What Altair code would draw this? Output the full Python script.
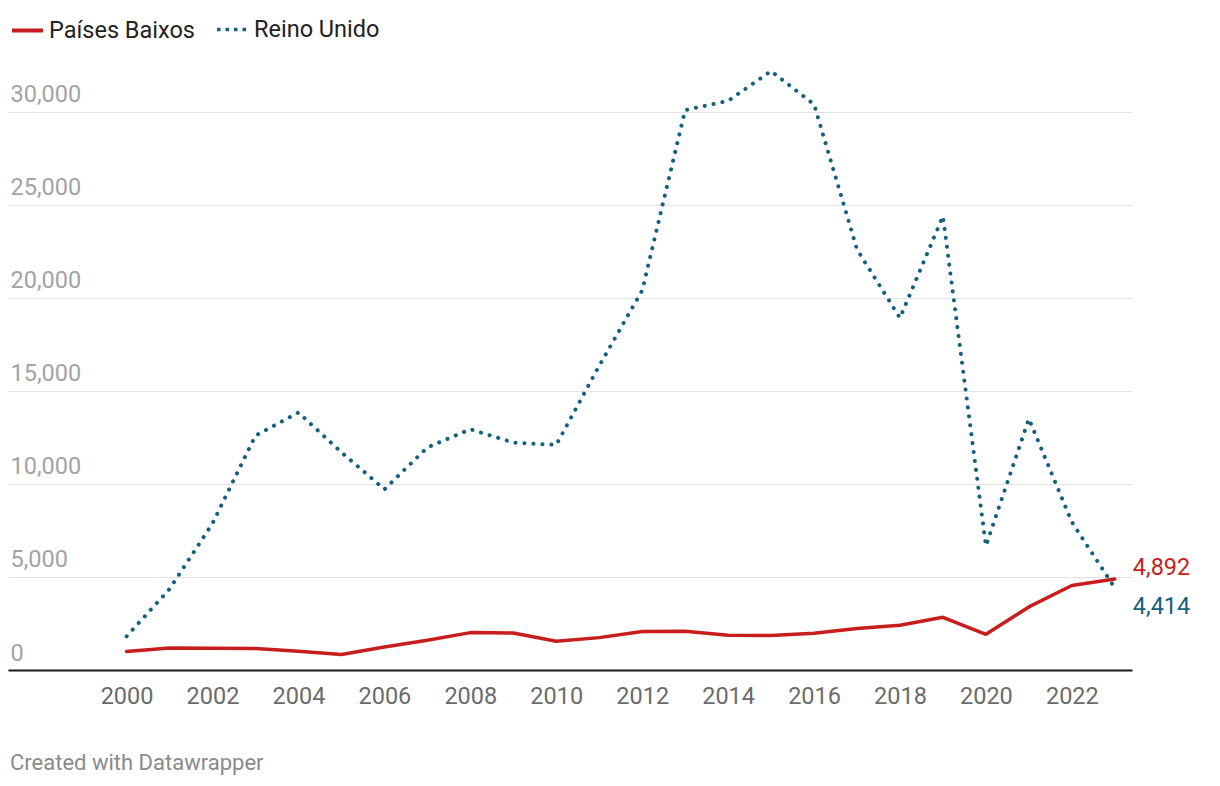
import altair as alt
import pandas as pd

# ---- data ----
years = list(range(2000, 2024))
paises_baixos = [1000, 1180, 1165, 1155, 1005, 830, 1235, 1600, 2010, 1990, 1545, 1740,
                 2065, 2080, 1865, 1850, 1975, 2225, 2400, 2830, 1920, 3390, 4540, 4892]
reino_unido = [1810, 4350, 7880, 12600, 13840, 11700, 9710, 11960, 12940, 12220, 12100, 16350,
               20400, 30090, 30590, 32190, 30400, 22600, 18920, 24390, 6670, 13500, 7950, 4414]
series_names = ["Países Baixos", "Reino Unido"]
y_ticks = [0, 5000, 10000, 15000, 20000, 25000, 30000]
x_ticks = list(range(2000, 2023, 2))
footer = "Created with Datawrapper"

RED = "#c71e1d"
BLUE = "#15607a"
FONT = "Roboto"
FS = 23.5

df_pb = pd.DataFrame({"year": years, "value": paises_baixos, "series": series_names[0]})
df_ru = pd.DataFrame({"year": years, "value": reino_unido, "series": series_names[1]})

x_enc = alt.X(
    "year:Q",
    scale=alt.Scale(domain=[1997.24, 2023.4], nice=False, zero=False),
    axis=alt.Axis(values=x_ticks, format="d", title=None, ticks=False, tickSize=0,
                  grid=False, domain=True, domainColor="#1a1a1a", domainWidth=2,
                  labelFontSize=FS, labelColor="#6b6b6b", labelPadding=14,
                  labelFont=FONT, labelFlush=False, labelOverlap=False),
)
y_enc = alt.Y(
    "value:Q",
    scale=alt.Scale(domain=[0, 33000], nice=False, zero=True),
    axis=alt.Axis(values=y_ticks, format=",.0f", title=None, ticks=False, tickSize=0,
                  domain=False, labelAlign="left", labelPadding=-2,
                  labelBaseline="alphabetic", labelOffset=-10, labelFontSize=FS,
                  labelColor="#a3a3a3", labelFont=FONT, labelFlush=False,
                  labelOverlap=False, grid=True, gridColor="#e3e3e3", gridWidth=1),
)

legend_common = dict(title=None, orient="none", symbolType="stroke", labelFontSize=FS,
                     labelFont=FONT, labelColor="#222222", padding=0,
                     direction="horizontal", labelLimit=400)

red_line = alt.Chart(df_pb).mark_line(
    strokeWidth=3.5, strokeCap="round", strokeJoin="round"
).encode(
    x=x_enc, y=y_enc,
    stroke=alt.Stroke("series:N",
                      scale=alt.Scale(domain=[series_names[0]], range=[RED]),
                      legend=alt.Legend(legendX=2, legendY=-43, symbolSize=961,
                                        symbolStrokeWidth=4, labelOffset=4,
                                        **legend_common)),
)

blue_line = alt.Chart(df_ru).mark_line(
    strokeWidth=4, strokeCap="round", strokeDash=[0.1, 8.9]
).encode(
    x=x_enc, y=y_enc,
    color=alt.Color("series:N",
                    scale=alt.Scale(domain=[series_names[1]], range=[BLUE]),
                    legend=alt.Legend(legendX=207, legendY=-43, symbolSize=841,
                                      symbolStrokeWidth=3.5, symbolDash=[3.5, 5],
                                      labelOffset=6, **legend_common)),
)

red_label = alt.Chart(df_pb).transform_filter(alt.datum.year == years[-1]).mark_text(
    align="left", dx=18, dy=-11, fontSize=FS, font=FONT, color=RED, baseline="middle"
).encode(x=x_enc, y=y_enc, text=alt.Text("value:Q", format=",.0f"))

blue_label = alt.Chart(df_ru).transform_filter(alt.datum.year == years[-1]).mark_text(
    align="left", dx=18, dy=19, fontSize=FS, font=FONT, color=BLUE, baseline="middle"
).encode(x=x_enc, y=y_enc, text=alt.Text("value:Q", format=",.0f"))

chart = alt.layer(red_line, blue_line, red_label, blue_label).properties(
    width=1124,
    height=614,
    autosize=alt.AutoSizeParams(type="none"),
    padding={"left": 0, "top": 48, "right": 80, "bottom": 106},
    title=alt.TitleParams(footer, orient="bottom", anchor="start", fontSize=22,
                          font=FONT, fontWeight="normal", color="#8a8a8a",
                          offset=45, dx=2),
).configure(background="white", view=alt.ViewConfig(stroke=None))

chart.save("out.html", embed_options={"renderer": "svg", "actions": False})
